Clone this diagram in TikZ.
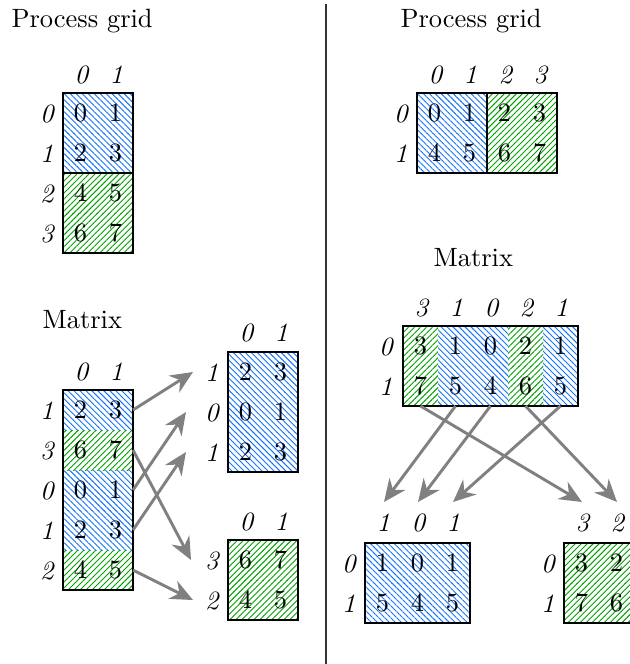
\documentclass[tikz,border=0pt]{standalone}
\usetikzlibrary{patterns.meta,arrows.meta}
\definecolor{hblue}{RGB}{20,115,255}
\definecolor{hgreen}{RGB}{0,160,0}
\definecolor{arrgray}{RGB}{128,128,128}
\tikzset{
  cellbox/.style={minimum width=13.23pt,minimum height=15.12pt,inner sep=0pt,outer sep=0pt},
  hatchB/.style={pattern={Lines[angle=-45,distance=1.6pt,line width=0.35pt]},pattern color=hblue},
  hatchG/.style={pattern={Lines[angle=45,distance=1.6pt,line width=0.35pt]},pattern color=hgreen},
  lab/.style={font=\itshape,inner sep=0pt},
  title/.style={anchor=base west,inner sep=0pt},
  frame/.style={draw=black,line width=0.45pt},
  sendarrow/.style={draw=arrgray,line width=1.1pt,-{Stealth[length=8.5pt,width=7.5pt]}},
  divider/.style={draw=black!80,line width=0.5pt},
}
\begin{document}
\begin{tikzpicture}[x=0.378pt,y=-0.378pt]
\useasboundingbox (0,0) rectangle (630,664);
\clip (0,0) rectangle (630,664);

% titles
\node[title] (tPL) at (11,27) {Process grid};
\node[title] (tPR) at (400,27) {Process grid};
\node[title] (tML) at (42,328) {Matrix};
\node[title] (tMR) at (433,266) {Matrix};

% divider
\coordinate (dtop) at (326,4);
\coordinate (dbot) at (326,664);
\draw[divider] (dtop) -- (dbot);

% ---------- left process grid ----------
\foreach \r/\k in {0/hatchB,1/hatchB,2/hatchG,3/hatchG}{
  \foreach \c in {0,1}{
    \pgfmathtruncatemacro\v{2*\r+\c}
    \node[cellbox,\k] (pgL-\r-\c) at ({80.5+35*\c},{113+40*\r}) {\v};
  }
  \node[lab] (pgLr-\r) at (47,{114+40*\r}) {\r};
}
\foreach \c in {0,1} \node[lab] (pgLc-\c) at ({81.5+35*\c},75) {\c};
\draw[frame] (pgL-0-0.north west) rectangle (pgL-1-1.south east);
\draw[frame] (pgL-2-0.north west) rectangle (pgL-3-1.south east);

% ---------- left matrix ----------
\foreach \r/\l/\k/\a/\b in {0/1/hatchB/2/3,1/3/hatchG/6/7,2/0/hatchB/0/1,3/1/hatchB/2/3,4/2/hatchG/4/5}{
  \node[cellbox,\k] (mL-\r-0) at (80.5,{410+40*\r}) {\a};
  \node[cellbox,\k] (mL-\r-1) at (115.5,{410+40*\r}) {\b};
  \node[lab] (mLr-\r) at (47,{411+40*\r}) {\l};
}
\foreach \c in {0,1} \node[lab] (mLc-\c) at ({81.5+35*\c},372) {\c};
\draw[frame] (mL-0-0.north west) rectangle (mL-4-1.south east);

% ---------- target A (blue) ----------
\foreach \r/\l/\a/\b in {0/1/2/3,1/0/0/1,2/1/2/3}{
  \node[cellbox,hatchB] (tA-\r-0) at (245.5,{372+40*\r}) {\a};
  \node[cellbox,hatchB] (tA-\r-1) at (280.5,{372+40*\r}) {\b};
  \node[lab] (tAr-\r) at (212,{373+40*\r}) {\l};
}
\foreach \c in {0,1} \node[lab] (tAc-\c) at ({246.5+35*\c},333) {\c};
\draw[frame] (tA-0-0.north west) rectangle (tA-2-1.south east);

% ---------- target B (green) ----------
\foreach \r/\l/\a/\b in {0/3/6/7,1/2/4/5}{
  \node[cellbox,hatchG] (tB-\r-0) at (245.5,{560+40*\r}) {\a};
  \node[cellbox,hatchG] (tB-\r-1) at (280.5,{560+40*\r}) {\b};
  \node[lab] (tBr-\r) at (212,{561+40*\r}) {\l};
}
\foreach \c in {0,1} \node[lab] (tBc-\c) at ({246.5+35*\c},522) {\c};
\draw[frame] (tB-0-0.north west) rectangle (tB-1-1.south east);

% left arrows
\coordinate (aA0) at (193,372);
\coordinate (aA1) at (186,412);
\coordinate (aA2) at (186,452);
\coordinate (aB0) at (191,560);
\coordinate (aB1) at (193,600);
\draw[sendarrow] (mL-0-1.east) -- (aA0);
\draw[sendarrow] (mL-2-1.east) -- (aA1);
\draw[sendarrow] (mL-3-1.east) -- (aA2);
\draw[sendarrow] (mL-1-1.east) -- (aB0);
\draw[sendarrow] (mL-4-1.east) -- (aB1);

% ---------- right process grid ----------
\foreach \r in {0,1}{
  \foreach \c/\k in {0/hatchB,1/hatchB,2/hatchG,3/hatchG}{
    \pgfmathtruncatemacro\v{4*\r+\c}
    \node[cellbox,\k] (pgR-\r-\c) at ({434.5+35*\c},{113+40*\r}) {\v};
  }
  \node[lab] (pgRr-\r) at (401,{114+40*\r}) {\r};
}
\foreach \c in {0,1,2,3} \node[lab] (pgRc-\c) at ({435.5+35*\c},75) {\c};
\draw[frame] (pgR-0-0.north west) rectangle (pgR-1-1.south east);
\draw[frame] (pgR-0-2.north west) rectangle (pgR-1-3.south east);

% ---------- right matrix ----------
\foreach \c/\l/\k/\a/\b in {0/3/hatchG/3/7,1/1/hatchB/1/5,2/0/hatchB/0/4,3/2/hatchG/2/6,4/1/hatchB/1/5}{
  \node[cellbox,\k] (mR-0-\c) at ({420.5+35*\c},346) {\a};
  \node[cellbox,\k] (mR-1-\c) at ({420.5+35*\c},386) {\b};
  \node[lab] (mRc-\c) at ({421.5+35*\c},308) {\l};
}
\foreach \r in {0,1} \node[lab] (mRr-\r) at (386,{347+40*\r}) {\r};
\draw[frame] (mR-0-0.north west) rectangle (mR-1-4.south east);

% ---------- target C (blue) ----------
\foreach \c/\l/\a/\b in {0/1/1/5,1/0/0/4,2/1/1/5}{
  \node[cellbox,hatchB] (tC-0-\c) at ({382.5+35*\c},563) {\a};
  \node[cellbox,hatchB] (tC-1-\c) at ({382.5+35*\c},603) {\b};
  \node[lab] (tCc-\c) at ({383.5+35*\c},523) {\l};
}
\foreach \r in {0,1} \node[lab] (tCr-\r) at (349,{564+40*\r}) {\r};
\draw[frame] (tC-0-0.north west) rectangle (tC-1-2.south east);

% ---------- target D (green) ----------
\foreach \c/\l/\a/\b in {0/3/3/7,1/2/2/6}{
  \node[cellbox,hatchG] (tD-0-\c) at ({581.5+35*\c},563) {\a};
  \node[cellbox,hatchG] (tD-1-\c) at ({581.5+35*\c},603) {\b};
  \node[lab] (tDc-\c) at ({582.5+35*\c},523) {\l};
}
\foreach \r in {0,1} \node[lab] (tDr-\r) at (548,{564+40*\r}) {\r};
\draw[frame] (tD-0-0.north west) rectangle (tD-1-1.south east);

% right arrows
\coordinate (aC0) at (384,502);
\coordinate (aC1) at (418,502);
\coordinate (aC2) at (453,502);
\coordinate (aD0) at (582,502);
\coordinate (aD1) at (617,502);
\draw[sendarrow] (mR-1-0.south) -- (aD0);
\draw[sendarrow] (mR-1-1.south) -- (aC0);
\draw[sendarrow] (mR-1-2.south) -- (aC1);
\draw[sendarrow] (mR-1-3.south) -- (aD1);
\draw[sendarrow] (mR-1-4.south) -- (aC2);
\end{tikzpicture}
\end{document}
